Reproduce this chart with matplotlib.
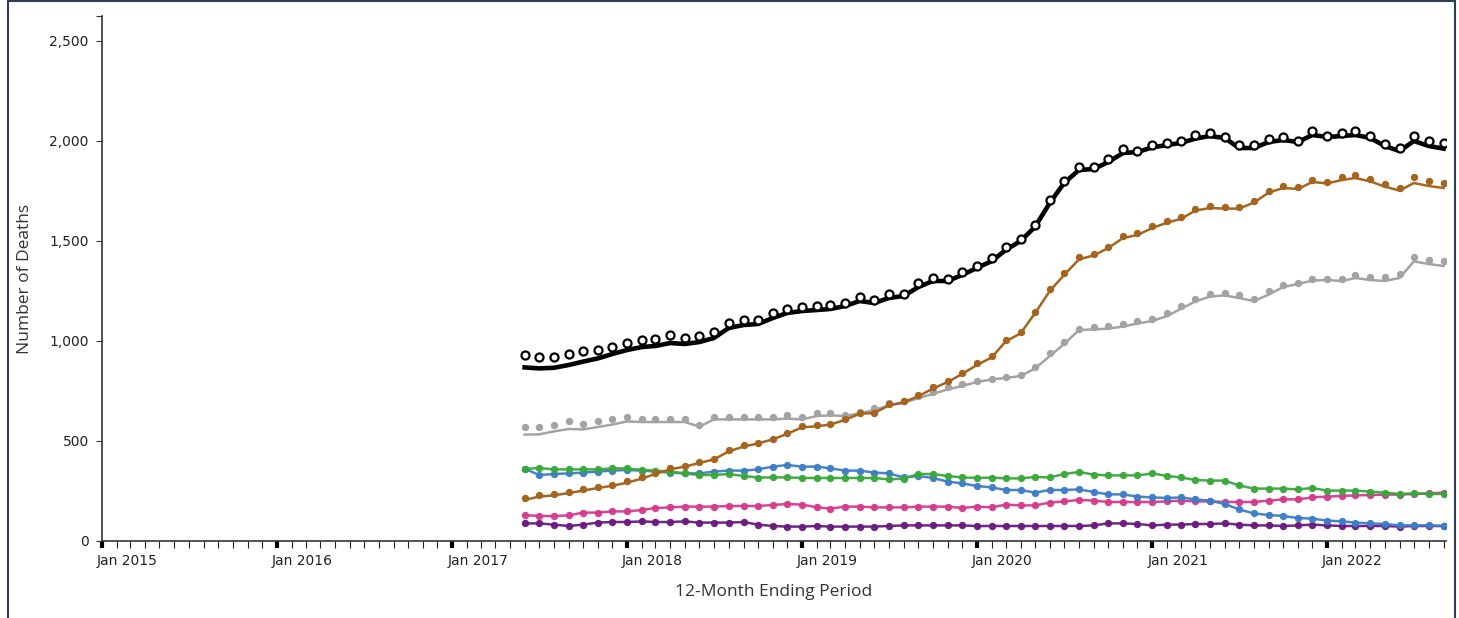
import numpy as np
import pandas as pd
import matplotlib
matplotlib.use('Agg')
import matplotlib.pyplot as plt
import matplotlib.dates as mdates
import matplotlib.transforms as mtransforms
from matplotlib.patches import Rectangle

# monthly 12-month ending periods, Jun 2017 - Sep 2022
months = pd.date_range('2017-06-01', periods=64, freq='MS')

# reported values (dots) and predicted values (lines)
total_dots = [930, 922, 922, 935, 948, 955, 972, 992, 1003, 1010, 1028, 1013, 1025, 1043, 1092, 1105,
              1105, 1138, 1160, 1168, 1173, 1180, 1190, 1220, 1203, 1237, 1237, 1290, 1315, 1308, 1343, 1377,
              1415, 1470, 1512, 1582, 1705, 1802, 1872, 1872, 1908, 1958, 1952, 1982, 1992, 2002, 2028, 2042,
              2022, 1978, 1978, 2012, 2018, 2002, 2052, 2025, 2038, 2048, 2025, 1985, 1965, 2025, 2002, 1992]
total_line = [868, 863, 866, 880, 897, 913, 935, 955, 970, 975, 990, 985, 995, 1015, 1065, 1080,
              1085, 1115, 1140, 1150, 1155, 1160, 1175, 1200, 1190, 1215, 1225, 1270, 1300, 1300, 1330, 1365,
              1400, 1455, 1500, 1570, 1690, 1790, 1855, 1860, 1895, 1940, 1945, 1968, 1980, 1990, 2012, 2025,
              2015, 1965, 1965, 1995, 2005, 1995, 2030, 2020, 2025, 2030, 2015, 1975, 1950, 2000, 1975, 1962]

brown_dots = [217, 232, 235, 245, 258, 272, 282, 298, 318, 342, 363, 375, 395, 412, 455, 478,
              492, 512, 542, 575, 578, 585, 612, 642, 642, 685, 698, 730, 768, 800, 842, 888,
              925, 1005, 1045, 1145, 1258, 1338, 1418, 1435, 1472, 1525, 1538, 1575, 1602, 1618, 1662, 1675,
              1672, 1672, 1702, 1752, 1775, 1768, 1805, 1795, 1818, 1828, 1808, 1785, 1765, 1818, 1802, 1792]
brown_line = [205, 222, 228, 240, 252, 265, 276, 292, 312, 336, 358, 372, 390, 408, 448, 472,
              488, 508, 536, 568, 574, 582, 606, 636, 640, 678, 694, 724, 762, 795, 835, 880,
              918, 998, 1038, 1138, 1250, 1330, 1408, 1428, 1465, 1515, 1530, 1565, 1592, 1610, 1652, 1665,
              1662, 1662, 1692, 1742, 1765, 1760, 1795, 1788, 1805, 1815, 1798, 1772, 1752, 1790, 1775, 1765]

gray_dots = [572, 568, 582, 598, 585, 598, 608, 622, 608, 608, 608, 608, 578, 622, 622, 622,
             622, 622, 628, 618, 638, 638, 632, 645, 665, 688, 698, 725, 745, 768, 785, 802,
             812, 822, 832, 872, 938, 995, 1062, 1068, 1075, 1085, 1102, 1112, 1138, 1175, 1212, 1235,
             1238, 1228, 1208, 1248, 1282, 1292, 1312, 1312, 1308, 1332, 1318, 1318, 1335, 1418, 1405, 1398]
gray_line = [532, 533, 548, 560, 558, 570, 582, 598, 595, 595, 595, 595, 572, 608, 608, 608,
             608, 608, 612, 608, 625, 628, 625, 638, 655, 678, 690, 715, 735, 758, 775, 795,
             808, 815, 825, 862, 925, 985, 1055, 1058, 1062, 1072, 1088, 1100, 1125, 1160, 1198, 1222,
             1228, 1215, 1200, 1232, 1270, 1285, 1302, 1305, 1300, 1315, 1305, 1300, 1315, 1398, 1385, 1375]

green = [360, 365, 358, 358, 358, 358, 363, 363, 355, 352, 347, 338, 330, 330, 335, 325,
         317, 318, 318, 315, 315, 315, 315, 315, 315, 308, 312, 335, 335, 325, 318, 315,
         317, 313, 313, 320, 318, 335, 345, 332, 328, 328, 328, 338, 325, 318, 305, 302,
         302, 278, 262, 262, 262, 258, 265, 252, 252, 252, 247, 242, 235, 238, 235, 235]

blue = [362, 330, 335, 338, 342, 347, 352, 355, 352, 347, 342, 338, 338, 347, 352, 352,
        358, 372, 380, 372, 372, 363, 352, 352, 342, 338, 318, 325, 315, 297, 288, 275,
        268, 255, 255, 242, 255, 255, 258, 245, 233, 233, 222, 218, 215, 218, 208, 202,
        185, 158, 138, 130, 125, 115, 112, 102, 98, 92, 88, 85, 78, 78, 78, 75]

pink = [130, 125, 125, 128, 142, 142, 148, 148, 155, 165, 168, 172, 172, 172, 175, 175,
        175, 180, 185, 182, 168, 162, 172, 172, 168, 168, 168, 172, 172, 172, 165, 172,
        168, 182, 178, 178, 192, 198, 205, 202, 195, 195, 195, 195, 198, 202, 198, 198,
        195, 195, 195, 202, 208, 208, 218, 222, 225, 228, 230, 232, 232, 235, 238, 242]

purple = [88, 88, 82, 75, 82, 92, 95, 95, 98, 95, 95, 98, 92, 92, 92, 95,
          82, 75, 72, 72, 75, 72, 72, 72, 72, 75, 78, 78, 78, 78, 78, 75,
          75, 75, 75, 75, 75, 75, 75, 78, 88, 88, 85, 78, 82, 82, 85, 85,
          88, 82, 78, 78, 75, 78, 82, 78, 75, 75, 75, 75, 72, 75, 75, 75]

fig = plt.figure(figsize=(14.59, 6.18), dpi=100)
ax = fig.add_axes([102 / 1459, 1 - 541 / 618, 1344 / 1459, 525 / 618])

# outer frame of the page
fig.patches.append(Rectangle((8 / 1459, -0.1), 1447 / 1459, 1.1 - 1 / 618, transform=fig.transFigure,
                             fill=False, edgecolor='#2d3e55', linewidth=1.5))

lw = 1.8
ms = 4.3
# colored series: line with dots
for vals, col in [(purple, '#6b1a7f'), (pink, '#d63a8e'), (blue, '#3d7ec8'), (green, '#3aa83a')]:
    ax.plot(months, vals, color=col, lw=lw, marker='o', ms=ms, alpha=0.95)

ax.plot(months, gray_line, color='#a3a3a3', lw=lw)
ax.plot(months, gray_dots, color='#a3a3a3', lw=0, marker='o', ms=ms)
ax.plot(months, brown_line, color='#a6651f', lw=lw)
ax.plot(months, brown_dots, color='#a6651f', lw=0, marker='o', ms=ms)
ax.plot(months, total_line, color='black', lw=3.3)
ax.plot(months, total_dots, color='black', lw=0, marker='o', ms=5.8, mfc='white', mew=1.6)

ax.set_ylim(0, 2625)
ax.set_xlim(pd.Timestamp('2015-01-01'), pd.Timestamp('2022-09-06'))

ax.set_yticks([0, 500, 1000, 1500, 2000, 2500])
ax.set_yticklabels(['0', '500', '1,000', '1,500', '2,000', '2,500'])
ax.set_yticks([2625], minor=True)
ax.tick_params(axis='y', which='both', length=4.5, width=0.8, color='#333333', pad=5,
               labelsize=10, labelcolor='#222222')

ax.xaxis.set_major_locator(mdates.YearLocator())
ax.xaxis.set_major_formatter(mdates.DateFormatter('Jan %Y'))
ax.xaxis.set_minor_locator(mdates.MonthLocator())
ax.tick_params(axis='x', which='minor', length=5, width=0.8, color='#222222')
ax.tick_params(axis='x', which='major', length=5, width=3, color='black', pad=4,
               labelsize=10, labelcolor='#222222')
offset = mtransforms.ScaledTranslation(-5 / 100, 0, fig.dpi_scale_trans)
for lab in ax.get_xticklabels():
    lab.set_horizontalalignment('left')
    lab.set_transform(lab.get_transform() + offset)

for side in ['top', 'right']:
    ax.spines[side].set_visible(False)
for side in ['left', 'bottom']:
    ax.spines[side].set_color('#333333')
    ax.spines[side].set_linewidth(1.2)

ax.set_ylabel('Number of Deaths', family='Open Sans', fontsize=12.5, color='#333333', labelpad=12)
ax.set_xlabel('12-Month Ending Period', family='Open Sans', fontsize=12.5, color='#333333', labelpad=12)

fig.savefig('out.png', dpi=100)
